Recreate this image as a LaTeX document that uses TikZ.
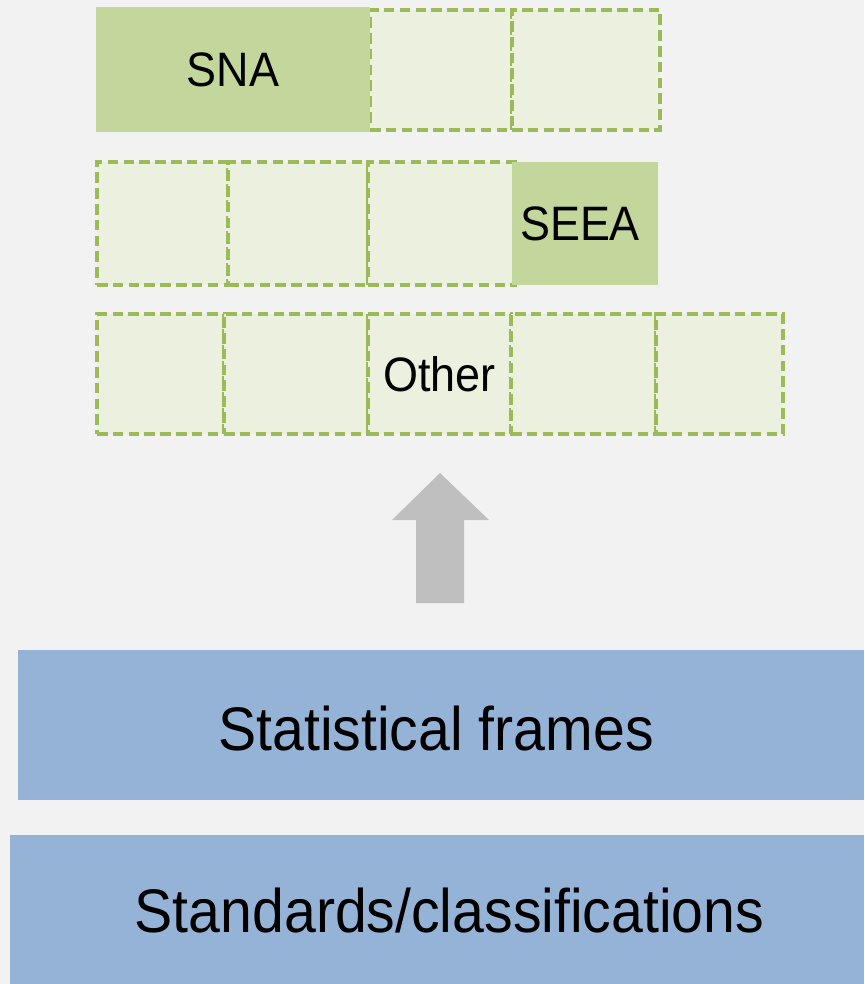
\documentclass[tikz,border=0pt]{standalone}
\usepackage{fontspec}
\setmainfont[FakeStretch=0.93]{Liberation Sans}
\definecolor{bggray}{HTML}{F2F2F2}
\definecolor{accgreen}{HTML}{C3D69B}
\definecolor{palegreen}{HTML}{EBF1DE}
\definecolor{dashgreen}{HTML}{9BBB59}
\definecolor{layerblue}{HTML}{95B3D7}
\definecolor{arrowgray}{HTML}{BFBFBF}
\begin{document}
\begin{tikzpicture}[
		acc/.style={fill=accgreen, inner sep=0pt, minimum height=2.5cm, font=\fontsize{27.5}{32}\selectfont},
		cell/.style={draw=dashgreen, line width=2.2pt, dash pattern=on 6pt off 3pt, fill=palegreen, inner sep=0pt, minimum height=2.4cm, font=\fontsize{27.5}{32}\selectfont},
		layer/.style={fill=layerblue, inner sep=0pt, minimum height=3cm},
		layertext/.style={font=\fontsize{35}{42}\selectfont}
		]
		
		\fill[bggray] (0,0) rectangle (17.28,-19.68);
		\useasboundingbox (0,0) rectangle (17.28,-19.68);
		
		% SNA row
		\node[cell, minimum width=2.84cm] (snaB) at (8.82,-1.40) {};
		\node[cell, minimum width=2.96cm] (snaC) at (11.72,-1.40) {};
		\node[acc, minimum width=5.48cm] (sna) at (4.66,-1.39) {SNA};
		
		% SEEA row
		\node[cell, minimum width=2.62cm, minimum height=2.46cm] (seeaA) at (3.25,-4.47) {};
		\node[cell, minimum width=2.80cm, minimum height=2.46cm] (seeaB) at (5.96,-4.47) {};
		\node[cell, minimum width=2.94cm, minimum height=2.46cm] (seeaC) at (8.83,-4.47) {};
		\node[acc, minimum width=2.92cm, minimum height=2.46cm] (seea) at (11.70,-4.47) {\hspace{-0.2cm}SEEA};
		
		% Other row
		\node[cell, minimum width=2.54cm] (othA) at (3.21,-7.48) {};
		\node[cell, minimum width=2.88cm] (othB) at (5.92,-7.48) {};
		\node[cell, minimum width=2.86cm] (other) at (8.79,-7.48) {Other};
		\node[cell, minimum width=2.90cm] (othD) at (11.67,-7.48) {};
		\node[cell, minimum width=2.54cm] (othE) at (14.39,-7.48) {};
		
		% Block arrow
		\fill[arrowgray] (8.32,-12.06) -- (8.32,-10.40) -- (7.84,-10.40) -- (8.80,-9.46)
			-- (9.78,-10.40) -- (9.28,-10.40) -- (9.28,-12.06) -- cycle;
		
		% Layers
		\node[layer, minimum width=16.92cm,
			label={[layertext, xshift=-0.1cm, yshift=-0.08cm]center:Statistical frames}] (frames) at (8.82,-14.50) {};
		\node[layer, minimum width=17.08cm, minimum height=2.98cm,
			label={[layertext, xshift=0.25cm, yshift=-0.02cm]center:Standards/classifications}] (standards) at (8.74,-18.19) {};
		
	\end{tikzpicture}
\end{document}
